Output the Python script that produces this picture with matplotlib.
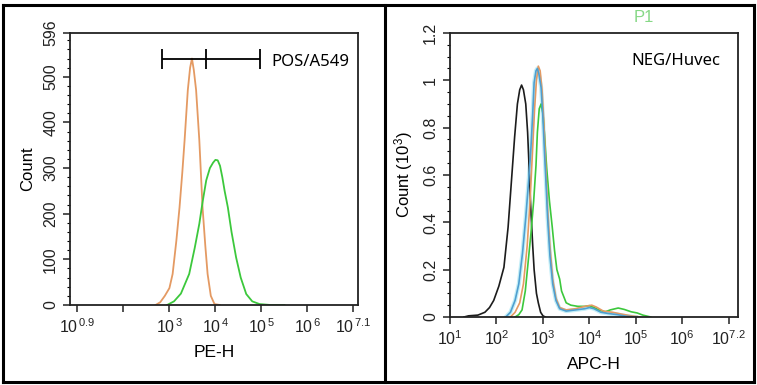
import numpy as np
import matplotlib
matplotlib.use("Agg")
import matplotlib.pyplot as plt
from matplotlib.ticker import FixedLocator, MultipleLocator, LogLocator, NullFormatter
from matplotlib.lines import Line2D

plt.rcParams['font.family'] = ['Liberation Sans', 'DejaVu Sans']
plt.rcParams['mathtext.fontset'] = 'custom'
plt.rcParams['mathtext.rm'] = 'Liberation Sans'
plt.rcParams['mathtext.it'] = 'Liberation Sans'

# ---- left panel: PE-H (log10 position, count) ----
pe_orange_log = [2.70, 2.80, 2.90, 3.00, 3.07, 3.15, 3.22, 3.28, 3.33, 3.40, 3.45, 3.49,
                 3.53, 3.58, 3.65, 3.72, 3.78, 3.83, 3.90, 3.98, 4.10]
pe_orange_cnt = [0, 6, 20, 37, 68, 140, 214, 290, 361, 471, 520, 540,
                 515, 471, 361, 214, 130, 68, 20, 2, 0]

pe_green_log = [2.95, 3.10, 3.25, 3.43, 3.55, 3.65, 3.72, 3.80, 3.88, 3.95, 4.00, 4.05,
                4.10, 4.15, 4.20, 4.27, 4.35, 4.45, 4.55, 4.67, 4.80, 4.96, 5.20, 5.50]
pe_green_cnt = [0, 8, 25, 68, 125, 178, 225, 273, 300, 312, 318, 317,
                305, 280, 250, 214, 160, 104, 60, 24, 8, 2, 0, 0]

# gate marker
gate_log = [2.83, 3.80, 4.97]
gate_y = 539

# ---- right panel: APC-H (log10 position, count in 10^3) ----
apc_black_log = [1.30, 1.40, 1.60, 1.75, 1.85, 1.94, 2.05, 2.16, 2.25, 2.32, 2.39, 2.45,
                 2.50, 2.54, 2.58, 2.63, 2.67, 2.70, 2.74, 2.78, 2.81, 2.86, 2.90, 2.95, 3.00, 3.05]
apc_black_cnt = [0.0, 0.005, 0.008, 0.02, 0.04, 0.07, 0.13, 0.21, 0.38, 0.57, 0.76, 0.90,
                 0.96, 0.98, 0.96, 0.90, 0.78, 0.64, 0.45, 0.30, 0.20, 0.10, 0.06, 0.02, 0.005, 0.0]

apc_blue_log = [2.20, 2.30, 2.40, 2.48, 2.56, 2.63, 2.69, 2.74, 2.78, 2.81, 2.85, 2.88,
                2.91, 2.96, 3.00, 3.03, 3.07, 3.10, 3.15, 3.21, 3.28, 3.36, 3.50, 3.70,
                3.90, 4.00, 4.10, 4.25, 4.40, 4.60, 4.80, 5.00]
apc_blue_cnt = [0.0, 0.02, 0.07, 0.14, 0.27, 0.42, 0.57, 0.71, 0.86, 0.99, 1.04, 1.05,
                1.03, 0.97, 0.84, 0.71, 0.55, 0.42, 0.26, 0.14, 0.07, 0.035, 0.025, 0.03,
                0.035, 0.04, 0.035, 0.02, 0.015, 0.01, 0.003, 0.0]

apc_orange_log = [2.30, 2.40, 2.50, 2.58, 2.66, 2.72, 2.77, 2.82, 2.86, 2.90, 2.94, 2.98,
                  3.02, 3.06, 3.10, 3.15, 3.21, 3.28, 3.36, 3.50, 3.70, 3.90, 4.05, 4.15,
                  4.30, 4.50, 4.70, 4.90, 5.10]
apc_orange_cnt = [0.0, 0.02, 0.06, 0.14, 0.30, 0.48, 0.68, 0.88, 1.00, 1.06, 1.04, 0.96,
                  0.82, 0.64, 0.46, 0.30, 0.16, 0.08, 0.04, 0.03, 0.035, 0.045, 0.05, 0.042,
                  0.025, 0.02, 0.012, 0.005, 0.0]

apc_green_log = [2.40, 2.48, 2.55, 2.62, 2.67, 2.74, 2.80, 2.85, 2.88, 2.92, 2.96, 3.00, 3.03,
                 3.08, 3.14, 3.20, 3.25, 3.30, 3.36, 3.40, 3.50, 3.60, 3.75, 3.90, 4.00,
                 4.10, 4.20, 4.34, 4.45, 4.62, 4.75, 4.90, 5.03, 5.15, 5.32]
apc_green_cnt = [0.0, 0.01, 0.03, 0.11, 0.21, 0.35, 0.49, 0.64, 0.78, 0.88, 0.90, 0.86, 0.78,
                 0.63, 0.49, 0.38, 0.28, 0.20, 0.16, 0.11, 0.06, 0.05, 0.045, 0.045, 0.048,
                 0.04, 0.03, 0.022, 0.03, 0.038, 0.032, 0.022, 0.017, 0.008, 0.0]

ORANGE = '#e49a63'
GREEN = '#3cc83c'
BLUE = '#4f9fd0'
BLACK = '#1c1c1c'

fig = plt.figure(figsize=(7.57, 3.85), dpi=100)

def style_axis(ax):
    ax.set_xscale('log')
    for s in ax.spines.values():
        s.set_linewidth(1.3)
        s.set_color('#222222')
    ax.tick_params(axis='both', which='major', length=5, width=1.1, labelsize=11.5,
                   colors='#222222')
    ax.tick_params(axis='both', which='minor', length=2.5, width=0.8)
    ax.tick_params(axis='y', labelrotation=90)
    ax.xaxis.set_minor_locator(LogLocator(base=10, subs=np.arange(2, 10)))
    ax.xaxis.set_minor_formatter(NullFormatter())

# ---------------- left ----------------
ax1 = fig.add_axes([0.0925, 0.2078, 0.3805, 0.7065])
style_axis(ax1)
ax1.plot(10 ** np.array(pe_orange_log), pe_orange_cnt, color=ORANGE, lw=1.3)
ax1.plot(10 ** np.array(pe_green_log), pe_green_cnt, color=GREEN, lw=1.3)
ax1.set_xlim(10 ** 0.84, 10 ** 7.1)
ax1.set_ylim(0, 596)
ax1.yaxis.set_major_locator(FixedLocator([0, 100, 200, 300, 400, 500, 596]))
ax1.yaxis.set_minor_locator(MultipleLocator(20))
ax1.xaxis.set_major_locator(FixedLocator([10.0 ** k for k in range(1, 8)]))
ax1.set_xticklabels([r'10$^{\,0.9}$', '', r'10$^{\,3}$', r'10$^{\,4}$', r'10$^{\,5}$',
                     r'10$^{\,6}$', r'10$^{\,7.1}$'])
ax1.set_xlabel('PE-H', fontsize=12.5, labelpad=7)
ax1.set_ylabel('Count', fontsize=12, labelpad=6)
# gate
ax1.hlines(gate_y, 10 ** gate_log[0], 10 ** gate_log[-1], color='black', lw=1.3)
ax1.vlines([10 ** g for g in gate_log], gate_y - 21, gate_y + 21, color='black', lw=1.3)
ax1.text(10 ** 5.22, gate_y - 6, 'POS/A549', fontsize=12, family=['Noto Sans', 'DejaVu Sans'],
         va='center', ha='left')

# ---------------- right ----------------
ax2 = fig.add_axes([0.5945, 0.1766, 0.3805, 0.7377])
style_axis(ax2)
ax2.plot(10 ** np.array(apc_blue_log), apc_blue_cnt, color='#9be3f2', lw=3.0, alpha=0.6)
ax2.plot(10 ** np.array(apc_black_log), apc_black_cnt, color=BLACK, lw=1.2)
ax2.plot(10 ** np.array(apc_green_log), apc_green_cnt, color=GREEN, lw=1.2)
ax2.plot(10 ** np.array(apc_orange_log), apc_orange_cnt, color=ORANGE, lw=1.2)
ax2.plot(10 ** np.array(apc_blue_log), apc_blue_cnt, color=BLUE, lw=1.2)
ax2.set_xlim(10 ** 1, 10 ** 7.2)
ax2.set_ylim(0, 1.2)
ax2.yaxis.set_major_locator(FixedLocator([0, 0.2, 0.4, 0.6, 0.8, 1.0, 1.2]))
ax2.set_yticklabels(['0', '0.2', '0.4', '0.6', '0.8', '1', '1.2'])
ax2.yaxis.set_minor_locator(MultipleLocator(0.05))
ax2.xaxis.set_major_locator(FixedLocator([10.0 ** k for k in range(1, 8)]))
ax2.set_xticklabels([r'10$^1$', r'10$^2$', r'10$^3$', r'10$^4$', r'10$^5$', r'10$^6$', r'10$^{7.2}$'])
ax2.set_xlabel('APC-H', fontsize=12.5, labelpad=7)
ax2.set_ylabel(r'Count (10$^3$)', fontsize=12, labelpad=6)
ax2.text(0.63, 0.9, 'NEG/Huvec', transform=ax2.transAxes, fontsize=12,
         family=['Noto Sans', 'DejaVu Sans'], va='center', ha='left')
fig.text(644 / 757, 1 - 18 / 385, 'P1', color='#86d886', fontsize=12, ha='center', va='center')

for ax in (ax1, ax2):
    for t in ax.get_yticklabels():
        t.set_va('center')

# panel frames
lw = 2.2
fig.add_artist(Line2D([0.004, 0.996], [0.988, 0.988], color='black', lw=lw, transform=fig.transFigure))
fig.add_artist(Line2D([0.004, 0.996], [0.008, 0.008], color='black', lw=lw, transform=fig.transFigure))
fig.add_artist(Line2D([0.004, 0.004], [0.008, 0.988], color='black', lw=lw, transform=fig.transFigure))
fig.add_artist(Line2D([0.996, 0.996], [0.008, 0.988], color='black', lw=lw, transform=fig.transFigure))
fig.add_artist(Line2D([385 / 757, 385 / 757], [0.008, 0.988], color='black', lw=lw, transform=fig.transFigure))

fig.savefig('out.png', dpi=100)
